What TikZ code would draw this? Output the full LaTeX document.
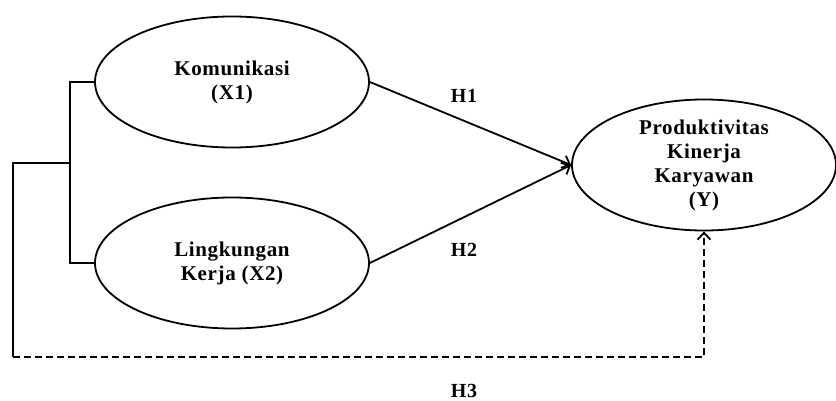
\documentclass[tikz,border=0pt]{standalone}
\usepackage{fontspec}
\setmainfont{Liberation Serif}[LetterSpace=3]
\usetikzlibrary{shapes,arrows.meta,positioning}
\tikzset{
    var/.style = {draw, ellipse, line width=1.8pt,
        minimum width=274pt, minimum height=131pt,
        inner sep=0pt, align=center,
        font=\fontsize{21}{24}\selectfont\bfseries},
    hyp/.style = {anchor=base, inner sep=0pt, font=\fontsize{20}{22}\selectfont\bfseries},
    line/.style = {draw, line width=1.8pt},
    arrow/.style = {line, -{Straight Barb[length=7pt,width=13pt]}}
}

\begin{document}
\begin{tikzpicture}[x=1pt, y=-1pt]
    \useasboundingbox (0,0) rectangle (836,401);
    \node [var] (x1) at (232,82) {Komunikasi\\(X1)};
    \node [var] (x2) at (232,263) {Lingkungan\\Kerja (X2)};
    \node [var, minimum width=264pt] (y) at (704,165) {Produktivitas\\Kinerja\\Karyawan\\(Y)};
    \coordinate (fork) at (70,163);
    \coordinate (start) at (13,163);
    \coordinate (corner) at (13,357);
    \draw [line] (x1.west) -| (fork) |- (x2.west);
    \draw [line] (fork) -- (start) -- (corner);
    \draw [arrow] (x1.east) -- (y.west);
    \draw [arrow] (x2.east) -- (y.west);
    \draw [arrow, dash pattern=on 7pt off 4pt] (corner) -| (y.south);
    \node [hyp] (h1) at (464,103) {H1};
    \node [hyp] (h2) at (464,256) {H2};
    \node [hyp] (h3) at (464,397) {H3};
\end{tikzpicture}
\end{document}
